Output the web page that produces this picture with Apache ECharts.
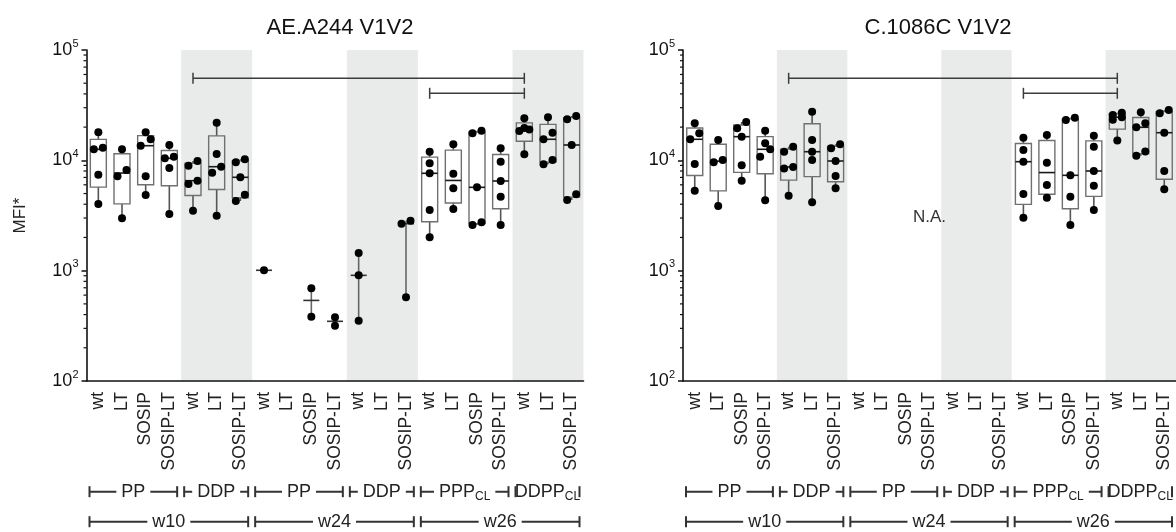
<!DOCTYPE html>
<html><head><meta charset="utf-8">
<script src="https://cdn.jsdelivr.net/npm/echarts@6/dist/echarts.min.js"></script>
<style>html,body{margin:0;padding:0;background:#fff}#c{width:1176px;height:532px}</style>
</head><body><div id="c"></div>
<script>
// ---------------- data ----------------
const categories = ['wt','LT','SOSIP','SOSIP-LT','wt','LT','SOSIP-LT','wt','LT','SOSIP','SOSIP-LT','wt','LT','SOSIP-LT','wt','LT','SOSIP','SOSIP-LT','wt','LT','SOSIP-LT'];
const groupNames = ['PP','DDP','PP','DDP','PPP|CL','DDPP|CL'];
const groupSizes = [4,3,4,3,4,3];
const weekNames = ['w10','w24','w26'];
const weekGroupCounts = [2,2,2];
const shadedGroups = [1,3,5];
const panelTitles = ['AE.A244 V1V2','C.1086C V1V2'];
const yTickExponents = [2,3,4,5];
const yAxisName = 'MFI*';

const aeDots = [
  [17950,13020,12590,7410,4020],
  [12590,8170,7165,2982],
  [17950,15520,13570,7165,4851],
  [13770,10790,10430,8520,3263],
  [9860,8940,6537,6102,3495],
  [21930,11420,8755,7725,3150],
  [10210,9597,7018,4881,4280],
  [1008],
  [],
  [692,383],
  [378,317],
  [1446,907,352],
  [],
  [2838,2666,573],
  [11970,9398,7630,3546,2006],
  [13970,7566,5578,3622],
  [18560,17580,5695,2744,2594],
  [12850,9719,6497,4682,2594],
  [24040,19630,19030,18440,11340],
  [24550,17800,15520,10070,9205],
  [25220,23550,13770,4920,4370]
];
const cDots = [
  [21650,17580,15520,9262,5306],
  [15290,10070,9597,3855],
  [22250,19510,16380,9016,6537],
  [18560,14270,12590,10790,4342],
  [13290,11970,8700,8450,4780],
  [27600,15290,11970,10070,4165],
  [13970,12850,9860,7211,5578],
  [],[],[],[],[],[],[],
  [16030,12410,9719,4953,3020],
  [16970,9517,5975,4585],
  [24340,23200,7317,4682,2594],
  [16720,13290,8004,5888,3546],
  [27000,25800,24600,23300,15100],
  [27250,21650,19930,12000,11000],
  [28590,26690,17800,8004,5463]
];
// significance brackets: [fromCategory, toCategory, value level]
const sigBrackets = [[4,18,55400],[14,18,40500]];
// annotation for right panel: text, category, value
const naNote = ['N.A.', 10, 3050];

// ---------------- layout / style ----------------
const FONT = 'Liberation Sans, Arial, Helvetica, sans-serif';
const Y_MIN = 100, Y_MAX = 100000;
const GRID_TOP = 50, GRID_H = 331;
const panels = [{left:86.5, width:497, dots:aeDots, name:true},
                {left:683, width:500, dots:cDots, name:false}];
const SHADE = '#e9ebeb';
const pxPerDec = GRID_H / Math.log10(Y_MAX/Y_MIN);

const groupStart = []; {let s=0; groupSizes.forEach(n=>{groupStart.push(s); s+=n;});}
const weekRanges = []; {let g=0; weekGroupCounts.forEach(c=>{weekRanges.push([groupStart[g], groupStart[g+c-1]+groupSizes[g+c-1]-1]); g+=c;});}

function quant(a, p){
  const n=a.length, h=p*(n+1);
  if(h<=1) return a[0];
  if(h>=n) return a[n-1];
  const lo=Math.floor(h);
  return a[lo-1]+(h-lo)*(a[lo]-a[lo-1]);
}
function swarm(vals){
  const s=vals.slice().sort((a,b)=>b-a);
  const ys=s.map(v=>-Math.log10(v)*pxPerDec);
  const out=[]; let i=0;
  while(i<s.length){
    let j=i;
    while(j+1<s.length && ys[j+1]-ys[j]<7.5) j++;
    const k=j-i+1;
    for(let t=0;t<k;t++){
      let dx;
      if(k===1) dx=0;
      else if(k%2===0) dx=(t%2===0?4.5:-4.5);
      else dx=(t===0?0:(t%2===1?5:-5));
      out.push({v:s[i+t],dx});
    }
    i=j+1;
  }
  return out;
}

const minorVals=[];
for(let e=2;e<5;e++) for(let m=2;m<=9;m++) minorVals.push([0, m*Math.pow(10,e)]);

const option = {
  animation:false,
  textStyle:{fontFamily:FONT},
  title: panels.map((p,i)=>({text:panelTitles[i], left:p.left+p.width/2, top:12, textAlign:'center',
    textStyle:{fontSize:22, fontWeight:'normal', color:'#111', fontFamily:FONT}})),
  grid: panels.map(p=>({left:p.left, top:GRID_TOP, width:p.width, height:GRID_H})),
  xAxis: panels.map((p,i)=>({type:'category', gridIndex:i, data:categories, boundaryGap:true,
    axisLine:{lineStyle:{color:'#111', width:1.6}},
    axisTick:{alignWithLabel:true, interval:0, length:5, lineStyle:{color:'#111', width:1.5}},
    axisLabel:{interval:0, rotate:90, fontSize:17.5, color:'#222', margin:11, fontFamily:FONT},
    splitLine:{show:false}})),
  yAxis: panels.map((p,i)=>({type:'log', logBase:10, gridIndex:i, min:Y_MIN, max:Y_MAX,
    name:p.name?yAxisName:'', nameLocation:'middle', nameGap:58, nameRotate:90,
    nameTextStyle:{fontSize:17, color:'#222', fontFamily:FONT},
    axisLine:{show:true, lineStyle:{color:'#111', width:1.6}},
    axisTick:{show:true, length:5, lineStyle:{color:'#111', width:1.5}},
    splitLine:{show:false},
    axisLabel:{margin:8, color:'#111',
      formatter:v=>{const e=Math.round(Math.log10(v)); return yTickExponents.includes(e)?'{b|10}{s|'+e+'}':'';},
      rich:{b:{fontSize:18, lineHeight:24, color:'#111', fontFamily:FONT},
            s:{fontSize:11, lineHeight:8, verticalAlign:'top', color:'#111', fontFamily:FONT}}}})),
  series: []
};

panels.forEach((p,pi)=>{
  // shaded bands
  option.series.push({type:'custom', xAxisIndex:pi, yAxisIndex:pi, z:0, silent:true,
    data: shadedGroups.map(g=>[groupStart[g], groupStart[g]+groupSizes[g]-1]),
    encode:{x:[0,1]},
    renderItem:(params,api)=>{
      const cs=params.coordSys, bw=api.size([1,0])[0];
      const x1=api.coord([api.value(0),Y_MIN])[0]-bw/2;
      const x2=api.coord([api.value(1),Y_MIN])[0]+bw/2;
      return {type:'rect', shape:{x:x1,y:cs.y,width:x2-x1,height:cs.height-0.8}, style:{fill:SHADE}};
    }});
  // minor log ticks
  option.series.push({type:'custom', xAxisIndex:pi, yAxisIndex:pi, z:5, silent:true, data:minorVals,
    encode:{x:0,y:1},
    renderItem:(params,api)=>{
      const cs=params.coordSys; const y=api.coord([0,api.value(1)])[1];
      return {type:'line', shape:{x1:cs.x-3,y1:y,x2:cs.x,y2:y}, style:{stroke:'#111',lineWidth:1.2}};
    }});
  // box / whisker / median
  const boxData=[];
  p.dots.forEach((d,i)=>{
    if(!d.length) return;
    const a=d.slice().sort((x,y)=>x-y);
    boxData.push([i, a[0], quant(a,0.25), quant(a,0.5), quant(a,0.75), a[a.length-1], a.length]);
  });
  option.series.push({type:'custom', xAxisIndex:pi, yAxisIndex:pi, z:3, silent:true, data:boxData,
    encode:{x:0,y:[1,2,3,4,5]},
    renderItem:(params,api)=>{
      const i=api.value(0), n=api.value(6);
      const pt=v=>api.coord([i,v]);
      const x=pt(api.value(3))[0];
      const yMin=pt(api.value(1))[1], yQ1=pt(api.value(2))[1], yMed=pt(api.value(3))[1], yQ3=pt(api.value(4))[1], yMax=pt(api.value(5))[1];
      const hw=8, ch=[];
      const wh={stroke:'#555',lineWidth:1.6};
      if(n>=4){
        ch.push({type:'line',shape:{x1:x,y1:yMax,x2:x,y2:yQ3},style:wh});
        ch.push({type:'line',shape:{x1:x,y1:yQ1,x2:x,y2:yMin},style:wh});
        ch.push({type:'rect',shape:{x:x-hw,y:yQ3,width:2*hw,height:yQ1-yQ3},style:{fill:'none',stroke:'#707070',lineWidth:1.4}});
        ch.push({type:'line',shape:{x1:x-hw,y1:yMed,x2:x+hw,y2:yMed},style:{stroke:'#1a1a1a',lineWidth:1.6}});
      } else {
        if(n>=2) ch.push({type:'line',shape:{x1:x,y1:yMax,x2:x,y2:yMin},style:{stroke:'#666',lineWidth:1.6}});
        ch.push({type:'line',shape:{x1:x-hw,y1:yMed,x2:x+hw,y2:yMed},style:{stroke:'#333',lineWidth:1.6}});
      }
      return {type:'group',children:ch};
    }});
  // dots
  const dotData=[];
  p.dots.forEach((d,i)=>{ swarm(d).forEach(o=>dotData.push({value:[i,o.v], symbolOffset:[o.dx,0]})); });
  option.series.push({type:'scatter', xAxisIndex:pi, yAxisIndex:pi, z:4, silent:true, data:dotData,
    symbol:'circle', symbolSize:8, itemStyle:{color:'#000', opacity:1}});
  // significance brackets
  option.series.push({type:'custom', xAxisIndex:pi, yAxisIndex:pi, z:5, silent:true, data:sigBrackets,
    encode:{x:[0,1],y:2},
    renderItem:(params,api)=>{
      const a=api.coord([api.value(0),api.value(2)]), b=api.coord([api.value(1),api.value(2)]);
      const st={stroke:'#3c3c3c',lineWidth:1.5}, h=5.5;
      return {type:'group',children:[
        {type:'line',shape:{x1:a[0],y1:a[1],x2:b[0],y2:b[1]},style:st},
        {type:'line',shape:{x1:a[0],y1:a[1]-h,x2:a[0],y2:a[1]+h},style:st},
        {type:'line',shape:{x1:b[0],y1:b[1]-h,x2:b[0],y2:b[1]+h},style:st}]};
    }});
  // group & week brackets under the axis
  const rows=[];
  groupNames.forEach((g,gi)=>rows.push([groupStart[gi], groupStart[gi]+groupSizes[gi]-1, Y_MIN, 0, gi]));
  weekRanges.forEach((r,wi)=>rows.push([r[0], r[1], Y_MIN, 1, wi]));
  option.series.push({type:'custom', xAxisIndex:pi, yAxisIndex:pi, z:6, silent:true, data:rows,
    encode:{x:[0,1],y:2},
    renderItem:(params,api)=>{
      const cs=params.coordSys, bw=api.size([1,0])[0];
      const row=api.value(3), idx=api.value(4);
      const x1=api.coord([api.value(0),Y_MIN])[0]-bw/2+3;
      const x2=api.coord([api.value(1),Y_MIN])[0]+bw/2-4;
      const y=cs.y+cs.height+(row===0?110.7:140.7);
      const label=(row===0?groupNames:weekNames)[idx].split('|');
      const text=label.length>1?'{m|'+label[0]+'}{s|'+label[1]+'}':'{m|'+label[0]+'}';
      const st={stroke:'#333',lineWidth:2}, h=5.5;
      return {type:'group',children:[
        {type:'line',shape:{x1:x1,y1:y,x2:x2,y2:y},style:st},
        {type:'text',x:(x1+x2)/2,y:y,z2:1,style:{text:text,align:'center',verticalAlign:'middle',
          backgroundColor:'#fff',padding:[1,5],
          rich:{m:{fontSize:18,lineHeight:22,fill:'#222',fontFamily:FONT},
                s:{fontSize:12,lineHeight:10,verticalAlign:'bottom',fill:'#222',fontFamily:FONT}}}},
        {type:'line',z2:2,shape:{x1:x1,y1:y-h,x2:x1,y2:y+h},style:st},
        {type:'line',z2:2,shape:{x1:x2,y1:y-h,x2:x2,y2:y+h},style:st}]};
    }});
});
// N.A. note on right panel
option.series.push({type:'custom', xAxisIndex:1, yAxisIndex:1, z:5, silent:true, data:[[naNote[1],naNote[2]]],
  encode:{x:0,y:1},
  renderItem:(params,api)=>{
    const c=api.coord([api.value(0),api.value(1)]);
    return {type:'text',x:c[0],y:c[1],style:{text:naNote[0],align:'center',verticalAlign:'middle',fontSize:17,fill:'#333',fontFamily:FONT}};
  }});

const chart=echarts.init(document.getElementById('c'),null,{renderer:'canvas'});
chart.setOption(option);
</script></body></html>
